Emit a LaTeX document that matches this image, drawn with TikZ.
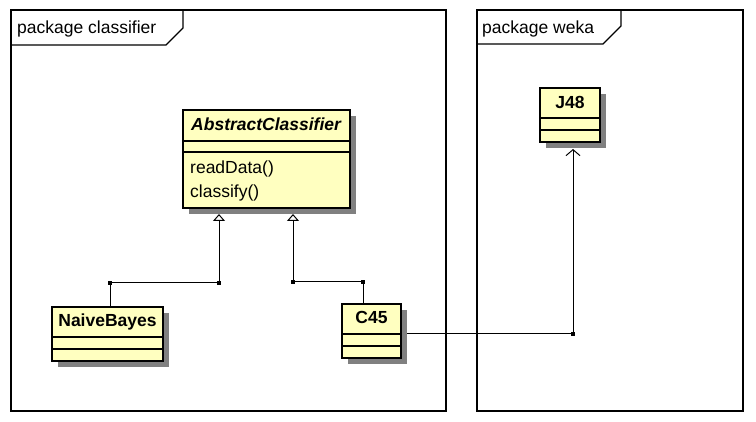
\documentclass[tikz,border=0pt]{standalone}
\usepackage{fontspec}
\setmainfont{Liberation Sans}
\usetikzlibrary{arrows.meta,shadows}
\definecolor{classfill}{RGB}{255,255,192}
\definecolor{shadowgray}{RGB}{128,128,128}
\pgfdeclarelayer{bg}
\pgfsetlayers{bg,main}
\tikzset{
  classbox/.style={draw, line width=1.2pt, fill=classfill, inner sep=0pt, outer sep=0pt,
    drop shadow={shadow xshift=6pt, shadow yshift=-6pt, fill=shadowgray, opacity=1}},
  divider/.style={draw, line width=1.1pt},
  frame/.style={draw, line width=1.2pt},
  txt/.style={inner sep=0pt, font=\fontsize{17.5}{20}\selectfont},
  titletxt/.style={txt, anchor=base, font=\bfseries\fontsize{17.5}{20}\selectfont},
  gen/.style={draw, line width=1pt, -{Triangle[open, length=7pt, width=12pt, line width=1pt]}},
  dep/.style={draw, line width=1pt, -{Straight Barb[length=6pt, width=14pt, line width=1pt]}},
  bendmark/.style={fill=black}
}
\begin{document}
\begin{tikzpicture}[x=1pt, y=-1pt]
\useasboundingbox (0,0) rectangle (756,422);

% package frames
\draw[frame] (11,10) rectangle (446,411);
\draw[frame] (11,45) -- (166,45) -- (183,28) -- (183,10);
\node[txt, anchor=base west] (pc) at (17,34) {package classifier};

\draw[frame] (477,10) rectangle (743,411);
\draw[frame] (477,44) -- (603,44) -- (621,26) -- (621,10);
\node[txt, anchor=base west] (pw) at (482,34) {package weka};

% classes
\node[classbox, minimum width=167pt, minimum height=98pt] (AC) at (266.5,159) {};
\draw[divider] ([yshift=-31pt]AC.north west) -- ([yshift=-31pt]AC.north east);
\draw[divider] ([yshift=-42pt]AC.north west) -- ([yshift=-42pt]AC.north east);
\node[titletxt] (ACt) at (266.5,131) {\textit{AbstractClassifier}};
\node[txt, anchor=base west] (m1) at (190,174) {readData()};
\node[txt, anchor=base west] (m2) at (190,198) {classify()};

\node[classbox, minimum width=111pt, minimum height=54pt] (NB) at (107.5,334) {};
\draw[divider] ([yshift=-30pt]NB.north west) -- ([yshift=-30pt]NB.north east);
\draw[divider] ([yshift=-42pt]NB.north west) -- ([yshift=-42pt]NB.north east);
\node[titletxt] (NBt) at (107.5,327) {NaiveBayes};

\node[classbox, minimum width=59pt, minimum height=54pt] (C45) at (371.5,331) {};
\draw[divider] ([yshift=-30pt]C45.north west) -- ([yshift=-30pt]C45.north east);
\draw[divider] ([yshift=-42pt]C45.north west) -- ([yshift=-42pt]C45.north east);
\node[titletxt] (C45t) at (371.5,324) {C45};

\node[classbox, minimum width=60pt, minimum height=54pt] (J48) at (570,115) {};
\draw[divider] ([yshift=-30pt]J48.north west) -- ([yshift=-30pt]J48.north east);
\draw[divider] ([yshift=-42pt]J48.north west) -- ([yshift=-42pt]J48.north east);
\node[titletxt] (J48t) at (570,109) {J48};

% connector bend points
\coordinate (b1) at (110,283);
\coordinate (b2) at (219,283);
\coordinate (t1) at (219,214);
\coordinate (c1) at (363,282);
\coordinate (c2) at (293,282);
\coordinate (t2) at (293,214);
\coordinate (d1) at (573,334);
\coordinate (t3) at (573,149);

\begin{pgfonlayer}{bg}
\draw[gen] (NB.north -| b1) -- (b1) -- (b2) -- (t1);
\draw[gen] (C45.north -| c1) -- (c1) -- (c2) -- (t2);
\draw[dep] (C45.east |- d1) -- (d1) -- (t3);
\end{pgfonlayer}

\foreach \p in {b1,b2,c1,c2,d1}
  \fill[bendmark] ([xshift=-2pt,yshift=-2pt]\p) rectangle ([xshift=2pt,yshift=2pt]\p);
\end{tikzpicture}
\end{document}
